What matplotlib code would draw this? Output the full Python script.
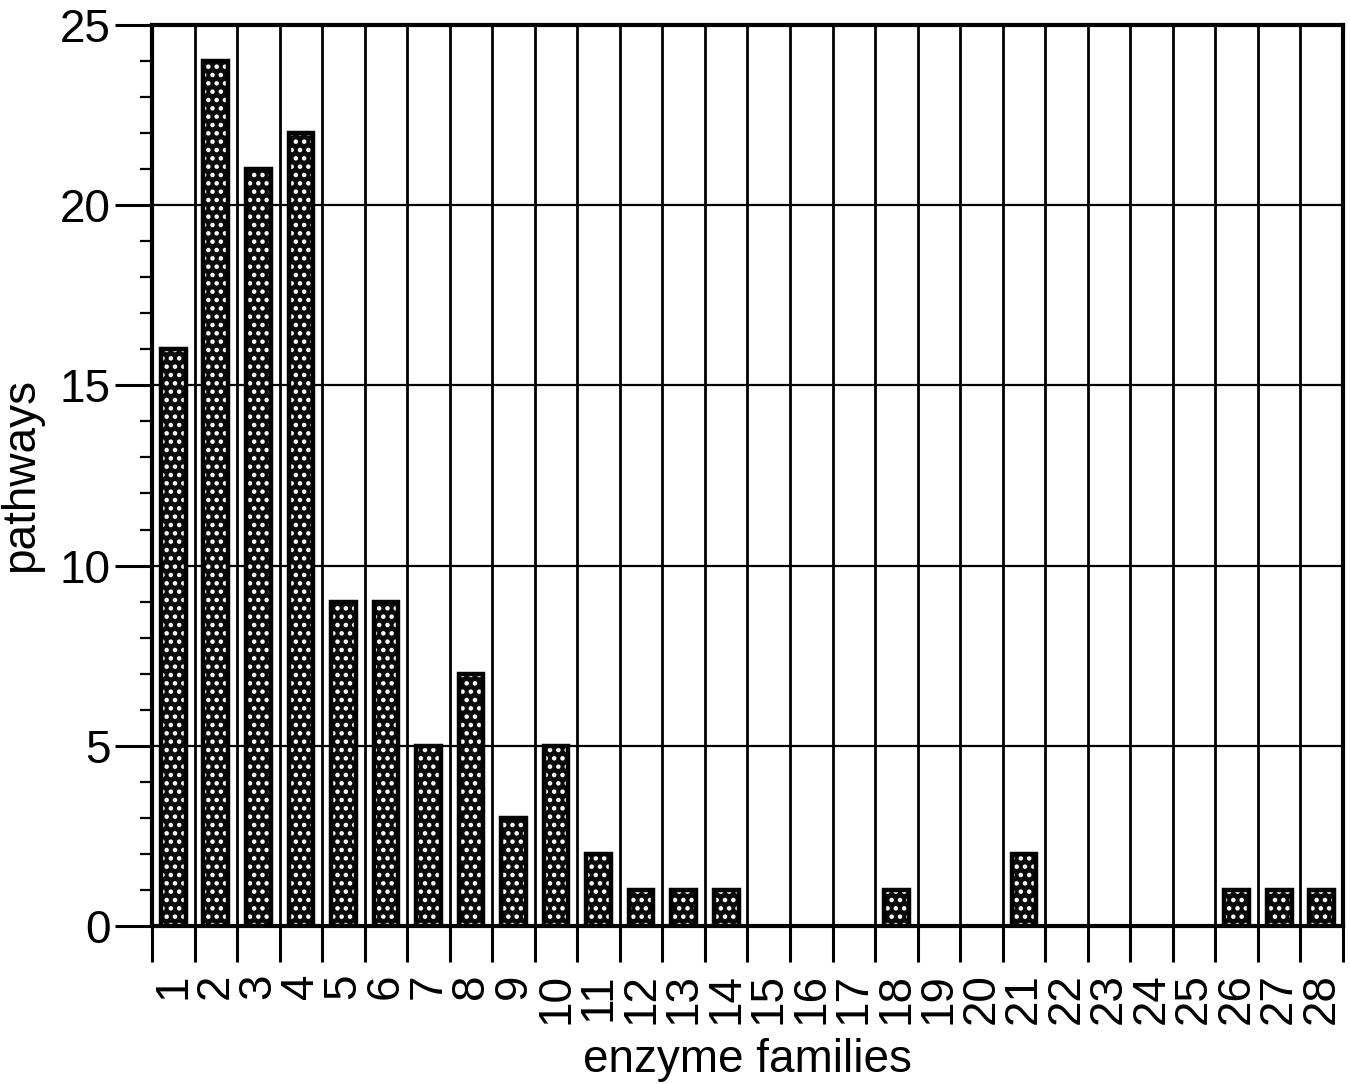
import numpy as np
import matplotlib.pyplot as plt
from matplotlib.ticker import MultipleLocator, FixedLocator

plt.rcParams['font.family'] = ['Liberation Sans', 'DejaVu Sans']
plt.rcParams['hatch.linewidth'] = 2.0

# data
families = [str(i) for i in range(1, 29)]
pathways = [16, 24, 21, 22, 9, 9, 5, 7, 3, 5, 2, 1, 1, 1,
            0, 0, 0, 1, 0, 0, 2, 0, 0, 0, 0, 1, 1, 1]
y_ticks = [0, 5, 10, 15, 20, 25]

fig = plt.figure(figsize=(13.5, 10.84), dpi=100)
ax = fig.add_axes([0.1126, 0.1458, 0.8822, 0.8312])

x = np.arange(1, len(families) + 1)
bw = 0.58

# dotted fill (white dots on black), then a thick black outline
ax.bar(x, pathways, width=bw, color='#0a0a0a', edgecolor='white',
       hatch='..', linewidth=0, zorder=3)
outline_w = [3.2 if v > 0 else 0 for v in pathways]
ax.bar(x, pathways, width=bw, fill=False, edgecolor='black',
       linewidth=outline_w, zorder=4)

ax.set_xlim(0.5, len(families) + 0.5)
ax.set_ylim(0, 25)

# x: labels at centres, tick marks/grid at boundaries
ax.xaxis.set_major_locator(FixedLocator(x))
ax.set_xticklabels(families, rotation=90, fontsize=33)
ax.xaxis.set_minor_locator(FixedLocator(np.arange(0.5, len(families) + 1, 1)))
ax.tick_params(axis='x', which='major', length=0, pad=34)
ax.tick_params(axis='x', which='minor', length=26, width=2.2, direction='out')
ax.grid(axis='x', which='minor', color='black', linewidth=2.0, zorder=1)

# y axis
ax.set_yticks(y_ticks)
ax.set_yticklabels([str(v) for v in y_ticks], fontsize=33)
ax.yaxis.set_minor_locator(MultipleLocator(1))
ax.tick_params(axis='y', which='major', length=27, width=2.2, pad=3)
ax.tick_params(axis='y', which='minor', length=9, width=1.6)
ax.grid(axis='y', which='major', color='black', linewidth=1.6, zorder=1)

for s in ax.spines.values():
    s.set_linewidth(3)

ax.set_xlabel('enzyme families', fontsize=33, labelpad=10)
ax.set_ylabel('pathways', fontsize=33, labelpad=12)

fig.savefig('out.png', dpi=100)
